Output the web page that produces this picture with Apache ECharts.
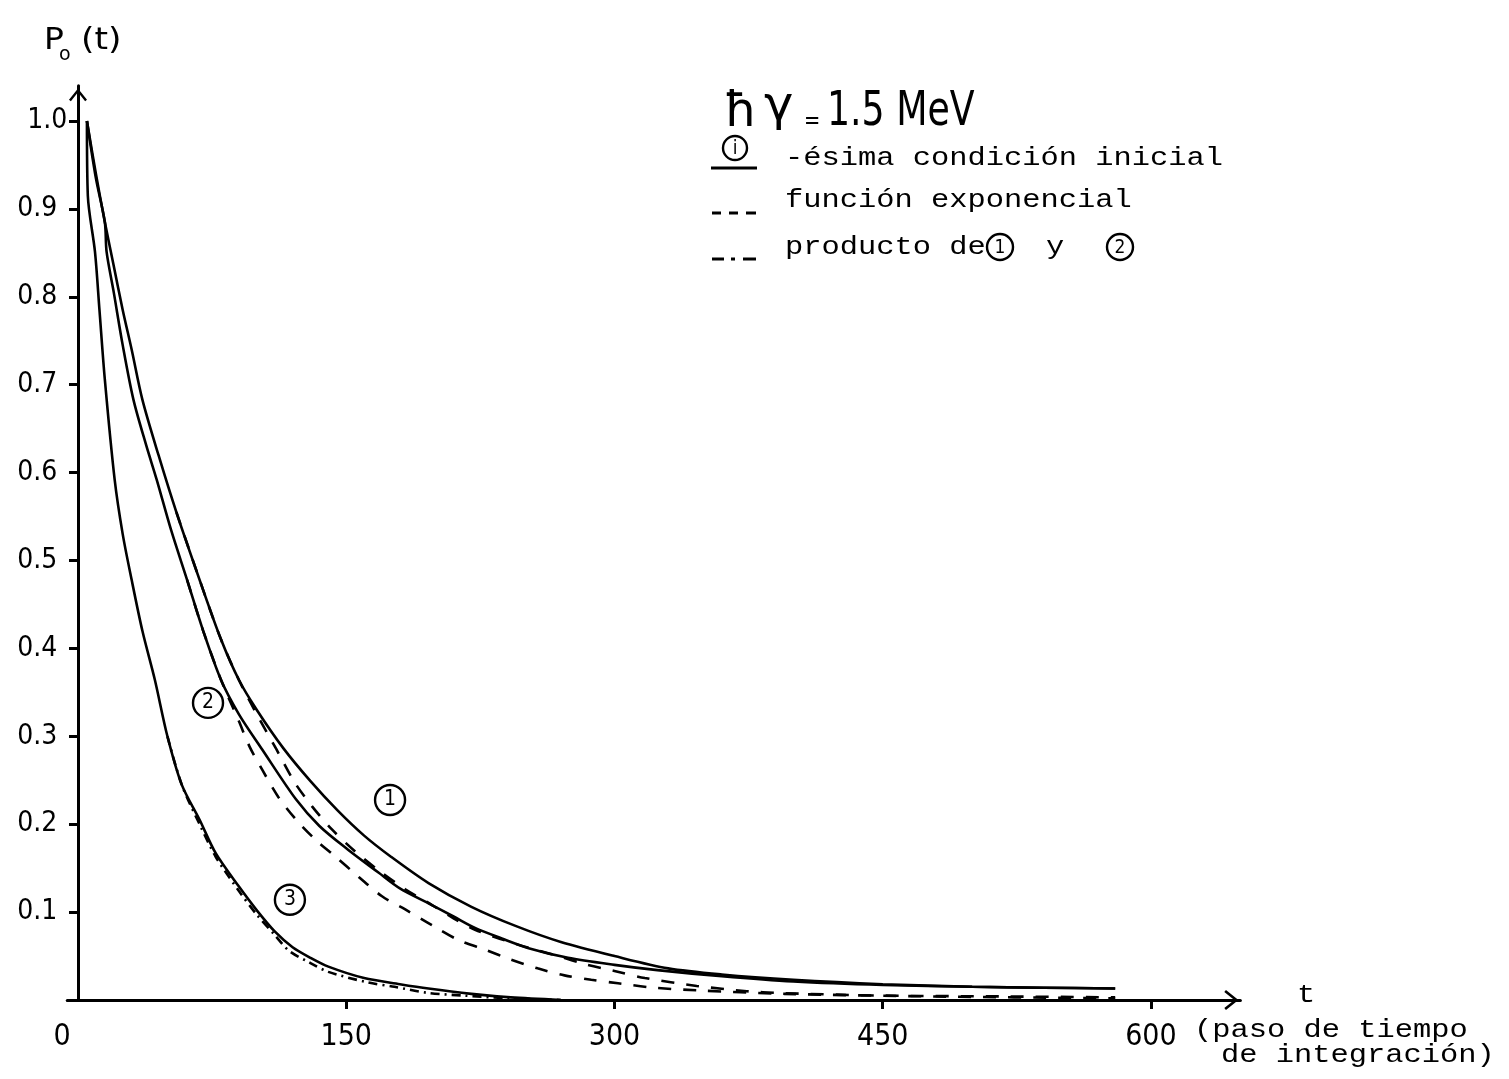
<!DOCTYPE html>
<html>
<head>
<meta charset="utf-8">
<title>P0(t) – ħγ = 1.5 MeV</title>
<script src="https://cdn.jsdelivr.net/npm/echarts@6/dist/echarts.min.js"></script>
<style>
  html, body { margin: 0; padding: 0; background: #fff; }
  #chart { width: 1509px; height: 1079px; }
</style>
</head>
<body>
<div id="chart"></div>
<script>
// Axis ticks
const xTicks = [0, 150, 300, 450, 600];
const yTicks = [0.1, 0.2, 0.3, 0.4, 0.5, 0.6, 0.7, 0.8, 0.9, 1.0];

// Curve 1: first initial condition (solid)
const t1 = [5, 10, 15, 20, 25, 30, 36, 45, 55, 68, 80, 90, 100, 115, 130, 145, 160, 175, 196, 220, 245, 270, 300, 330, 360, 400, 450, 500, 540, 580];
const p1 = [1.00, 0.94, 0.885, 0.835, 0.785, 0.74, 0.683, 0.62, 0.555, 0.478, 0.41, 0.364, 0.33, 0.286, 0.249, 0.216, 0.187, 0.163, 0.133, 0.106, 0.084, 0.066, 0.05, 0.036, 0.029, 0.023, 0.018, 0.015, 0.014, 0.013];

// Curve 2: second initial condition (solid)
const t2 = [5, 10, 15, 16, 20, 25, 31, 38, 44, 52, 61, 70, 80, 90, 103, 122, 135, 151, 168, 180, 196, 210, 222, 237, 252, 274, 300, 324, 360, 400, 450, 500, 540, 580];
const p2 = [1.00, 0.935, 0.885, 0.851, 0.805, 0.745, 0.683, 0.632, 0.592, 0.535, 0.478, 0.42, 0.364, 0.325, 0.285, 0.228, 0.198, 0.171, 0.145, 0.127, 0.110, 0.095, 0.082, 0.07, 0.059, 0.048, 0.04, 0.034, 0.027, 0.021, 0.017, 0.015, 0.014, 0.013];

// Curve 3: third initial condition (solid)
const t3 = [5, 5.5, 9.5, 12, 15, 20.5, 25, 30, 36, 43, 50, 58, 68, 77, 90, 100, 110, 120, 130, 140, 160, 180, 196, 220, 242, 270];
const p3 = [1.00, 0.915, 0.851, 0.785, 0.706, 0.592, 0.53, 0.478, 0.42, 0.364, 0.30, 0.245, 0.205, 0.167, 0.129, 0.102, 0.078, 0.06, 0.048, 0.038, 0.025, 0.018, 0.013, 0.007, 0.003, 0.0];

// Exponential fit following curve 1 (dashed)
const tExp1 = [55, 68, 80, 90, 100, 111, 121, 131, 142, 155, 169, 183, 198, 210, 222, 246, 270, 283, 300, 317, 346, 374, 392, 450, 520, 580];
const pExp1 = [0.555, 0.478, 0.41, 0.364, 0.325, 0.285, 0.248, 0.22, 0.194, 0.169, 0.146, 0.126, 0.108, 0.093, 0.08, 0.063, 0.049, 0.041, 0.033, 0.025, 0.016, 0.010, 0.008, 0.005, 0.004, 0.003];

// Exponential fit following curve 2 (dashed)
const tExp2 = [61, 70, 80, 90, 96, 103, 112, 122, 133, 144, 157, 170, 183, 198, 213, 228, 242, 257, 272, 287, 302, 322, 346, 395, 480, 580];
const pExp2 = [0.478, 0.42, 0.364, 0.317, 0.288, 0.262, 0.231, 0.205, 0.182, 0.163, 0.14, 0.118, 0.103, 0.085, 0.068, 0.057, 0.046, 0.036, 0.028, 0.023, 0.019, 0.014, 0.011, 0.007, 0.004, 0.002];

// Product of curves 1 and 2 (dash-dot)
const tProd = [50, 58, 68, 77, 90, 100, 110, 118, 130, 140, 162, 177, 196, 216, 240, 270];
const pProd = [0.30, 0.245, 0.2, 0.163, 0.124, 0.097, 0.074, 0.056, 0.042, 0.032, 0.02, 0.015, 0.008, 0.005, 0.002, 0.0];

const SANS = '"DejaVu Sans Condensed", "DejaVu Sans", "Liberation Sans Narrow", sans-serif';
const WIDE = '"DejaVu Sans", sans-serif';
const MONO = '"Liberation Mono", "DejaVu Sans Mono", monospace';
const INK = '#000';
// open arrow head for the axis ends
const ARROW = 'path://M0,0 L12,15 L9.5,17 L0,5 L-9.5,17 L-12,15 Z';

const pairs = (ts, ps) => ts.map((t, i) => [t, ps[i]]);

const chart = echarts.init(document.getElementById('chart'), null, { renderer: 'canvas' });

function curve(name, ts, ps, type, marks) {
  const s = {
    name, type: 'line', data: pairs(ts, ps),
    showSymbol: false, symbol: 'none', smooth: 0.3,
    silent: true, animation: false, z: 3,
    lineStyle: { color: INK, width: 2.6, type: type, cap: 'butt' }
  };
  if (marks) {
    s.markPoint = {
      symbol: 'circle', symbolSize: 30, silent: true, animation: false,
      itemStyle: { color: 'rgba(0,0,0,0)', borderColor: INK, borderWidth: 2.4 },
      label: { show: true, color: INK, fontSize: 21, fontFamily: SANS, formatter: p => p.name },
      data: marks
    };
  }
  return s;
}

function monoText(text, x, y) {
  return {
    type: 'text', x, y, scaleX: 1.17, silent: true,
    style: { text, fill: INK, fontSize: 26, fontFamily: MONO,
             align: 'left', textAlign: 'left', verticalAlign: 'middle', textVerticalAlign: 'middle' }
  };
}
function sansText(text, x, y, size, sx, family) {
  return {
    type: 'text', x, y, scaleX: sx || 1, silent: true,
    style: { text, fill: INK, fontSize: size, fontFamily: family || SANS,
             align: 'left', textAlign: 'left', verticalAlign: 'middle', textVerticalAlign: 'middle' }
  };
}
function ring(cx, cy, r, digit, size) {
  return [
    { type: 'circle', shape: { cx, cy, r }, silent: true,
      style: { fill: 'none', stroke: INK, lineWidth: 2.4 } },
    { type: 'text', x: cx, y: cy + 1, silent: true,
      style: { text: digit, fill: INK, fontSize: size, fontFamily: SANS,
               align: 'center', textAlign: 'center', verticalAlign: 'middle', textVerticalAlign: 'middle' } }
  ];
}
function seg(x1, y1, x2, y2, w) {
  return { type: 'line', shape: { x1, y1, x2, y2 }, silent: true,
           style: { stroke: INK, lineWidth: w || 3 } };
}

const option = {
  backgroundColor: '#fff',
  animation: false,
  grid: { left: 67.27, top: 85.8, width: 1173.1, height: 914.2, containLabel: false, outerBoundsMode: 'none' },
  xAxis: {
    type: 'value', min: -6, max: 650,
    axisLine: { show: true, onZero: true, lineStyle: { color: INK, width: 3 },
                symbol: ['none', ARROW], symbolSize: [20, 18], symbolOffset: [0, -9] },
    axisTick: { show: true, customValues: xTicks.slice(1), length: 9, lineStyle: { color: INK, width: 3 } },
    axisLabel: {
      show: true, customValues: xTicks, margin: 22, color: INK, fontSize: 30, fontFamily: SANS,
      formatter: v => (v === 0 ? '{z|0}' : String(v)),
      rich: { z: { fontSize: 30, fontFamily: SANS, color: INK, padding: [0, 32, 0, 0] } }
    },
    splitLine: { show: false }
  },
  yAxis: {
    type: 'value', min: 0, max: 1.04,
    axisLine: { show: true, onZero: true, lineStyle: { color: INK, width: 3 },
                symbol: ['none', ARROW], symbolSize: [18, 18], symbolOffset: [0, -9] },
    axisTick: { show: true, customValues: yTicks, length: 9, lineStyle: { color: INK, width: 3 } },
    axisLabel: {
      show: true, customValues: yTicks, margin: -4, color: INK, fontSize: 28, fontFamily: SANS,
      formatter: v => (v === 1 ? '{a|1.0}' : '{b|' + v.toFixed(1) + '}'),
      rich: {
        a: { fontSize: 28, fontFamily: SANS, color: INK, padding: [0, 4, 0, 0] },
        b: { fontSize: 28, fontFamily: SANS, color: INK, padding: [0, 14, 0, 0] }
      }
    },
    splitLine: { show: false }
  },
  series: [
    curve('1', t1, p1, 'solid', [{ name: '1', coord: [174.5, 0.2275] }]),
    curve('2', t2, p2, 'solid', [{ name: '2', coord: [72.7, 0.338] }]),
    curve('3', t3, p3, 'solid', [{ name: '3', coord: [118.5, 0.114] }]),
    curve('exp1', tExp1, pExp1, [13, 12]),
    curve('exp2', tExp2, pExp2, [13, 12]),
    curve('prod', tProd, pProd, [9, 5, 2, 5])
  ],
  graphic: [
    // P0(t)
    sansText('P', 44, 41, 30, 1.1, WIDE),
    sansText('o', 59, 55, 19, 1, WIDE),
    sansText('(t)', 81, 41, 30, 1.15, WIDE),
    // ħγ = 1.5 MeV
    sansText('ħ', 724, 114, 48, 1.1),
    sansText('γ', 764, 108, 48, 1.15),
    sansText('=', 804, 122, 24, 0.9),
    sansText('1.5 MeV', 827, 113, 48, 0.84),
    // legend: solid
    ...ring(735, 148, 12, 'i', 19),
    seg(711, 168, 757, 168, 3),
    monoText('-ésima condición inicial', 785, 158),
    // legend: dashed
    seg(712, 213, 721, 213, 3), seg(729, 213, 738, 213, 3), seg(746, 213, 756, 213, 3),
    monoText('función exponencial', 785, 200),
    // legend: dash-dot
    seg(712, 259, 724, 259, 3), seg(731, 259, 735, 259, 3), seg(743, 259, 756, 259, 3),
    monoText('producto de', 785, 247),
    ...ring(1000, 247, 13, '1', 19),
    monoText('y', 1046, 247),
    ...ring(1120, 247, 13, '2', 19),
    // x axis caption
    monoText('t', 1297, 995),
    monoText('(paso de tiempo', 1194, 1030),
    monoText('de integración)', 1221, 1055)
  ]
};

chart.setOption(option);
</script>
</body>
</html>
